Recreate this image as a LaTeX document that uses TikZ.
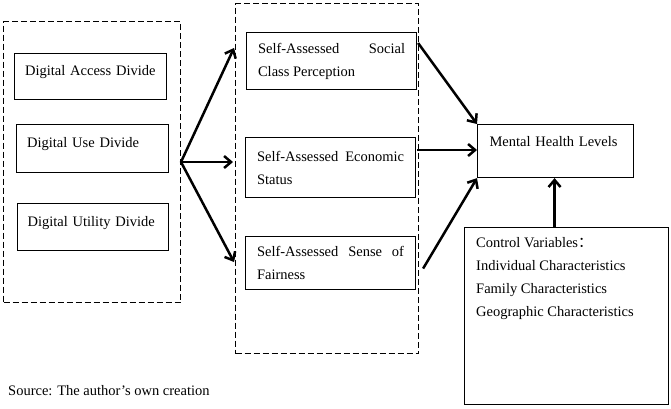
\documentclass[tikz,border=0pt]{standalone}
\usepackage{fontspec}
\setmainfont{Liberation Serif}
\newfontfamily\cjk{Noto Sans CJK SC}
\usetikzlibrary{arrows.meta,calc}
\begin{document}
\begin{tikzpicture}[x=1pt,y=-1pt,
  font=\fontsize{14.5}{23}\selectfont,
  box/.style={draw, line width=1.1pt, anchor=north west, inner xsep=11pt, inner ysep=0pt},
  onebox/.style={box, align=left, inner xsep=10pt, text width=131pt, text height=10pt, text depth=12pt},
  twobox/.style={box, text width=147pt, align=justify, minimum width=170pt},
  grp/.style={draw, line width=1pt, dash pattern=on 6pt off 3pt, anchor=north west, inner sep=0pt},
  arr/.style={line width=2.5pt, -{Straight Barb[length=7pt,width=12pt]}}
]
\useasboundingbox (0,0) rectangle (671,408);
\hyphenpenalty=10000 \exhyphenpenalty=10000

% groups
\node[grp, minimum width=177pt, minimum height=281pt] (leftgrp) at (3,21) {};
\node[grp, minimum width=183pt, minimum height=350pt] (midgrp) at (235,3) {};

% left boxes
\node[onebox, minimum width=152pt, minimum height=46pt] (acc) at (14,53) {\mbox{Digital Access Divide}};
\node[onebox, minimum width=152pt, minimum height=48pt] (use) at (16,124) {\mbox{Digital Use Divide}};
\node[onebox, minimum width=151pt, minimum height=47pt] (uti) at (17,203) {\mbox{Digital Utility Divide}};

% middle boxes
\node[twobox, minimum height=57pt] (soc) at (246,32) {Self-Assessed Social\linebreak Class Perception};
\node[twobox, minimum height=60pt] (eco) at (245,137) {Self-Assessed Economic\linebreak Status};
\node[twobox, minimum height=53pt] (fair) at (245,236) {Self-Assessed Sense of\linebreak Fairness};

% right boxes
\node[box, align=left, inner xsep=12pt, text width=132pt, text height=10pt, text depth=19pt, minimum width=156pt, minimum height=53pt] (ment) at (477,124) {\mbox{Mental Health Levels}};
\node[draw, line width=1.1pt, anchor=north west, minimum width=204pt, minimum height=177pt] (ctrl) at (464,227) {};
\node[anchor=north west, align=left, inner xsep=12pt, inner ysep=10.5pt] (ctrltxt) at (ctrl.north west)
  {Control Variables{\cjk ：}\\Individual Characteristics\\Family Characteristics\\Geographic Characteristics};

% source
\node[anchor=base west, inner sep=0pt] (src) at (8,395) {Source: The author’s own creation};

% connector ends
\coordinate (t1) at ($(midgrp.north west)+(-1,45)$);
\coordinate (t2) at ($(midgrp.north west)+(-2,159)$);
\coordinate (t3) at ($(midgrp.north west)+(-1,259)$);
\coordinate (s1) at ($(soc.north east)+(1,11)$);
\coordinate (e1) at ($(eco.north east)+(1,13)$);
\coordinate (f1) at ($(fair.east)+(7,5.5)$);
\coordinate (c1) at ($(ctrl.north)+(-12,0)$);

% arrows
\draw[arr] (leftgrp.east) -- (t1);
\draw[arr] (leftgrp.east) -- (t2);
\draw[arr] (leftgrp.east) -- (t3);
\draw[arr] (s1) -- (ment.north west);
\draw[arr] (e1) -- (e1 -| ment.west);
\draw[arr] (f1) -- (ment.south west);
\draw[arr] (c1) -- (c1 |- ment.south);
\end{tikzpicture}
\end{document}
